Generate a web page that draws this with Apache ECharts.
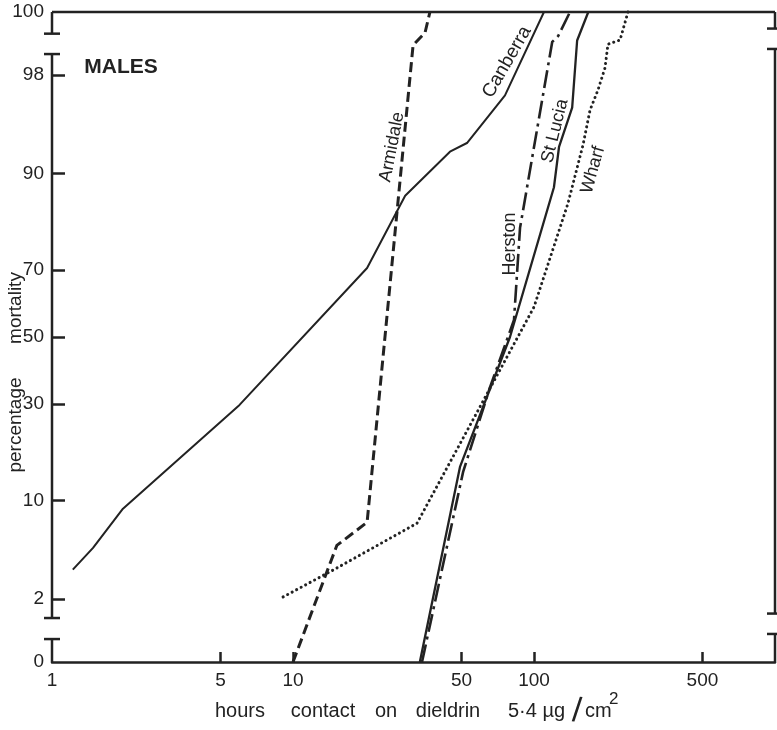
<!DOCTYPE html>
<html>
<head>
<meta charset="utf-8">
<script src="https://cdn.jsdelivr.net/npm/echarts@6/dist/echarts.min.js"></script>
<style>
  html, body { margin: 0; padding: 0; background: #ffffff; }
  #chart { width: 777px; height: 730px; }
</style>
</head>
<body>
<div id="chart"></div>
<script>
// Hours of contact (log scale) and percentage mortality (probit scale), males.
const canberraHours = [1.22, 1.48, 1.97, 6.0, 20.3, 29.2, 44.8, 52.7, 75.8, 110];
const canberraPct   = [3.4, 4.9, 8.9, 29.7, 70.6, 86.6, 92.7, 93.6, 97.1, 100];

const armidaleHours = [10, 15.2, 20.3, 31.5, 35.3, 37.0];
const armidalePct   = [0, 5.1, 7.3, 98.9, 99.15, 100];

const herstonHours = [34.3, 50.8, 65.7, 82.6, 87.5, 119, 126, 141];
const herstonPct   = [0, 14.5, 34.7, 55.3, 80.4, 98.97, 99.09, 100];

const stLuciaHours = [33.6, 49.3, 79.5, 121, 127, 144, 151, 168];
const stLuciaPct   = [0, 15.4, 50, 88.0, 93.2, 96.4, 99.0, 100];

const wharfHours = [9.1, 14.7, 32.7, 100, 138.4, 159.7, 170.8, 184.3, 197, 202.8, 227.5, 245.5];
const wharfPct   = [2.07, 3.38, 7.2, 59.3, 85.3, 93.4, 96.25, 97.37, 98.26, 98.92, 99.01, 100];

const xTickLabels = [1, 5, 10, 50, 100, 500];
const xTickMarks  = [5, 10, 50, 100, 500];
const yTickLabels = [0, 2, 10, 30, 50, 70, 90, 98, 100];
const yTickMarks  = [2, 10, 30, 50, 70, 90, 98];

// Probit scale: 0 % and 100 % sit on the ends of the broken axis.
const EDGE = 2.55;
function probit(p) {
  const a = [-3.969683028665376e+01, 2.209460984245205e+02, -2.759285104469687e+02, 1.383577518672690e+02, -3.066479806614716e+01, 2.506628277459239e+00];
  const b = [-5.447609879822406e+01, 1.615858368580409e+02, -1.556989798598866e+02, 6.680131188771972e+01, -1.328068155288572e+01];
  const c = [-7.784894002430293e-03, -3.223964580411365e-01, -2.400758277161838e+00, -2.549732539343734e+00, 4.374664141464968e+00, 2.938163982698783e+00];
  const d = [7.784695709041462e-03, 3.224671290700398e-01, 2.445134137142996e+00, 3.754408661907416e+00];
  const pl = 0.02425, ph = 1 - pl;
  if (p < pl) {
    const q = Math.sqrt(-2 * Math.log(p));
    return (((((c[0]*q+c[1])*q+c[2])*q+c[3])*q+c[4])*q+c[5]) / ((((d[0]*q+d[1])*q+d[2])*q+d[3])*q+1);
  }
  if (p <= ph) {
    const q = p - 0.5, r = q * q;
    return (((((a[0]*r+a[1])*r+a[2])*r+a[3])*r+a[4])*r+a[5])*q / (((((b[0]*r+b[1])*r+b[2])*r+b[3])*r+b[4])*r+1);
  }
  const q = Math.sqrt(-2 * Math.log(1 - p));
  return -(((((c[0]*q+c[1])*q+c[2])*q+c[3])*q+c[4])*q+c[5]) / ((((d[0]*q+d[1])*q+d[2])*q+d[3])*q+1);
}
function pctToAxis(pct) {
  if (pct <= 0) return -EDGE;
  if (pct >= 100) return EDGE;
  return probit(pct / 100);
}
function pairs(hours, pct) {
  return hours.map((h, i) => [h, pctToAxis(pct[i])]);
}
function yLabel(v) {
  let best = 0, dist = Infinity;
  yTickLabels.forEach((p, i) => {
    const dd = Math.abs(pctToAxis(p) - v);
    if (dd < dist) { dist = dd; best = i; }
  });
  return String(yTickLabels[best]);
}

const INK = '#222222';
const FONT = 'Liberation Sans';

const chart = echarts.init(document.getElementById('chart'), null, { renderer: 'canvas' });

function lineSeries(name, data, width, dash, cap) {
  return {
    name, type: 'line', data, symbol: 'none', clip: false, smooth: false,
    lineStyle: { color: INK, width, type: dash, cap: cap || 'butt', join: 'round' },
    silent: true, animation: false
  };
}

chart.setOption({
  animation: false,
  backgroundColor: '#ffffff',
  grid: { left: 52, right: 2, top: 12, bottom: 68, outerBoundsMode: 'none' },
  xAxis: {
    type: 'log', logBase: 10, min: 1, max: 1000,
    axisLine: { show: true, onZero: false, lineStyle: { color: INK, width: 2.5 } },
    axisTick: { show: true, inside: true, length: 10, customValues: xTickMarks, lineStyle: { color: INK, width: 2.5 } },
    axisLabel: { customValues: xTickLabels, margin: 9, color: INK, fontFamily: FONT, fontSize: 19 },
    splitLine: { show: false }, minorTick: { show: false }, minorSplitLine: { show: false }
  },
  yAxis: {
    type: 'value', min: -EDGE, max: EDGE,
    axisLine: { show: false },
    axisTick: { show: true, inside: true, length: 13, customValues: yTickMarks.map(pctToAxis), lineStyle: { color: INK, width: 2.5 } },
    axisLabel: { customValues: yTickLabels.map(pctToAxis), formatter: yLabel, margin: 8, color: INK, fontFamily: FONT, fontSize: 19 },
    splitLine: { show: false }
  },
  series: [
    lineSeries('Canberra', pairs(canberraHours, canberraPct), 2, 'solid'),
    lineSeries('Armidale', pairs(armidaleHours, armidalePct), 3, [10, 5]),
    lineSeries('Herston', pairs(herstonHours, herstonPct), 2.6, [18, 5, 3, 5]),
    lineSeries('St Lucia', pairs(stLuciaHours, stLuciaPct), 2.3, 'solid'),
    lineSeries('Wharf', pairs(wharfHours, wharfPct), 3, [0.1, 5], 'round')
  ]
});

// Frame with broken vertical axes, positioned through the chart's own coordinate system.
const px = v => chart.convertToPixel({ gridIndex: 0 }, [v, 0])[0];
const py = v => chart.convertToPixel({ gridIndex: 0 }, [1, v])[1];
const xL = px(1), xR = px(1000);
const yTop = py(EDGE), yBot = py(-EDGE);
const frameStyle = { stroke: INK, lineWidth: 2.5, lineCap: 'butt' };

function seg(x1, y1, x2, y2) {
  return { type: 'line', shape: { x1, y1, x2, y2 }, style: frameStyle, silent: true, z: 10 };
}
function brokenAxis(x, hiGap, loGap) {
  const a = py(hiGap[1]), b = py(hiGap[0]), c = py(loGap[1]), d = py(loGap[0]);
  const w = 8;
  return [
    seg(x, yTop, x, a), seg(x - w, a, x + w, a),
    seg(x - w, b, x + w, b), seg(x, b, x, c), seg(x - w, c, x + w, c),
    seg(x - w, d, x + w, d), seg(x, d, x, yBot)
  ];
}

function text(str, x, y, opts) {
  const o = opts || {};
  return {
    type: 'text', x, y, rotation: (o.deg || 0) * Math.PI / 180, silent: true, z: 20,
    style: {
      text: str, fill: INK, fontFamily: FONT, fontSize: o.size || 19,
      fontWeight: o.weight || 'normal', fontStyle: 'normal',
      align: o.align || 'center', verticalAlign: 'middle'
    }
  };
}

const graphics = [
  seg(xL, yTop, xR, yTop),
  ...brokenAxis(xL, [2.22, 2.38], [-2.37, -2.205]),
  ...brokenAxis(xR, [2.26, 2.42], [-2.33, -2.17]),
  text('MALES', 121, 67, { size: 21, weight: 'bold' }),
  text('Armidale', 392, 147, { deg: 79, size: 18 }),
  text('Canberra', 507, 62, { deg: 60, size: 19 }),
  text('Herston', 510, 244, { deg: 90, size: 18 }),
  text('St Lucia', 555, 131, { deg: 76, size: 18 }),
  text('Wharf', 593, 170, { deg: 74, size: 18 }),
  text('percentage', 16, 425, { deg: 90 }),
  text('mortality', 16, 308, { deg: 90 }),
  text('hours', 240, 711, { size: 20 }),
  text('contact', 323, 711, { size: 20 }),
  text('on', 386, 711, { size: 20 }),
  text('dieldrin', 448, 711, { size: 20 }),
  text('5\u00b74 \u00b5g', 508, 711, { size: 20, align: 'left' }),
  text('/', 577, 712, { size: 34, deg: -3 }),
  text('cm', 585, 711, { size: 20, align: 'left' }),
  text('2', 609, 699, { size: 17, align: 'left' })
];

chart.setOption({ graphic: graphics });
</script>
</body>
</html>
